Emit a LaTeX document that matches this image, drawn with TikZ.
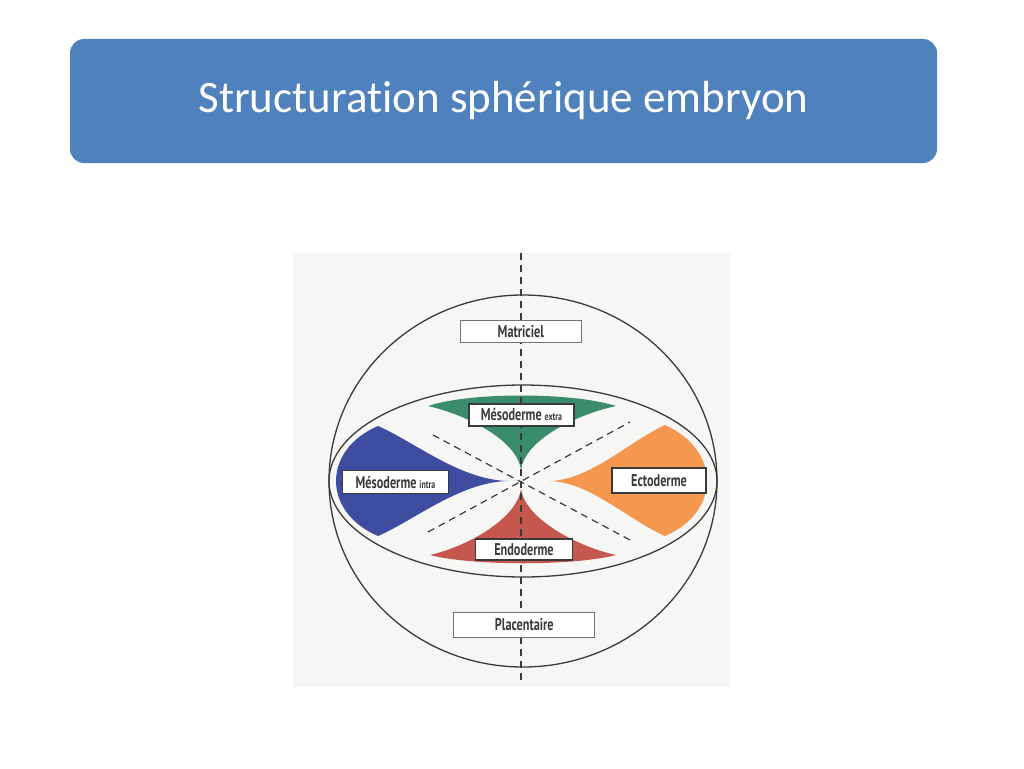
\documentclass[tikz,border=0pt]{standalone}
\usepackage{fontspec}
\setmainfont[Ligatures=NoCommon]{Carlito}
\newfontfamily\embfont[FakeStretch=0.72]{PT Sans}
\usetikzlibrary{positioning}
\definecolor{titleblue}{HTML}{4F81BD}
\definecolor{embgreen}{HTML}{3A8C6C}
\definecolor{embblue}{HTML}{3F4DA0}
\definecolor{emborange}{HTML}{F5974F}
\definecolor{embred}{HTML}{C6574F}
\definecolor{embpaper}{HTML}{F6F6F4}
\definecolor{embink}{HTML}{3A3A3A}
\tikzset{
 emb outline/.style={draw=embink,line width=1.3pt},
 emb axis/.style={draw=embink,line width=1.2pt,dash pattern=on 7pt off 5pt},
 emb label/.style={draw=embink,line width=1.6pt,fill=white,inner sep=0pt,
                   text=embink,font=\embfont\bfseries\fontsize{17}{17}\selectfont},
 emb zone/.style={emb label,draw=black!55,line width=.8pt}
}
\newcommand{\embsmall}[1]{{\fontsize{11}{11}\selectfont #1}}

\begin{document}
\begin{tikzpicture}[x=1pt,y=-1pt]
 \useasboundingbox (0,0) rectangle (1024,768);
 % title bar
 \node[fill=titleblue,rounded corners=14pt,minimum width=867pt,minimum height=124pt,
       text=white,font=\fontsize{45}{45}\selectfont] (title) at (503.5,101)
   {Structuration sphérique embryon};
 % scanned figure background
 \fill[embpaper] (293,253) rectangle (730,687);
 % germ layers
 \fill[embgreen] (428,406) .. controls (470,392) and (572,392) .. (616,406)
   .. controls (575,415) and (525,440) .. (521,470)
   .. controls (517,440) and (467,415) .. (428,406) -- cycle;
 \fill[embred] (430,555) .. controls (472,566) and (574,566) .. (616,555)
   .. controls (575,546) and (525,518) .. (521,489)
   .. controls (517,518) and (469,546) .. (430,555) -- cycle;
 \fill[embblue] (378,426) .. controls (322,450) and (322,512) .. (378,536)
   .. controls (413,521) and (460,482) .. (508,481)
   .. controls (460,480) and (413,441) .. (378,426) -- cycle;
 \fill[emborange] (665,425) .. controls (721,450) and (721,512) .. (665,536)
   .. controls (630,521) and (590,482) .. (550,481)
   .. controls (590,480) and (630,441) .. (665,425) -- cycle;
 % sphere and disc
 \draw[emb outline] (523,481) ellipse [x radius=194, y radius=186];
 \draw[emb outline] (523,481) ellipse [x radius=194, y radius=96];
 % axes
 \coordinate (axtop) at (521,253);
 \coordinate (axbot) at (521,682);
 \coordinate (d1a) at (433,435);
 \coordinate (d1b) at (630,540);
 \coordinate (d2a) at (428,532);
 \coordinate (d2b) at (630,422);
 \foreach \p/\q in {axtop/axbot,d1a/d1b,d2a/d2b}{\draw[emb axis] (\p)--(\q);}
 % labels
 \node[emb zone,minimum width=121pt,minimum height=22pt] (matriciel) at (520.8,331.3) {Matriciel};
 \node[emb zone,minimum width=141pt,minimum height=25pt] (placentaire) at (524.3,624.8) {Placentaire};
 \node[emb label,minimum width=105pt,minimum height=22pt] (mesoextra) at (521.5,414.7)
   {Mésoderme\,\embsmall{extra}};
 \node[emb label,minimum width=106pt,minimum height=23pt] (mesointra) at (395.5,482)
   {Mésoderme\,\embsmall{intra}};
 \node[emb label,minimum width=94pt,minimum height=25pt] (ecto) at (659,480.5) {Ectoderme};
 \node[emb label,minimum width=97pt,minimum height=21pt] (endo) at (524,549.2) {Endoderme};
\end{tikzpicture}
\end{document}
